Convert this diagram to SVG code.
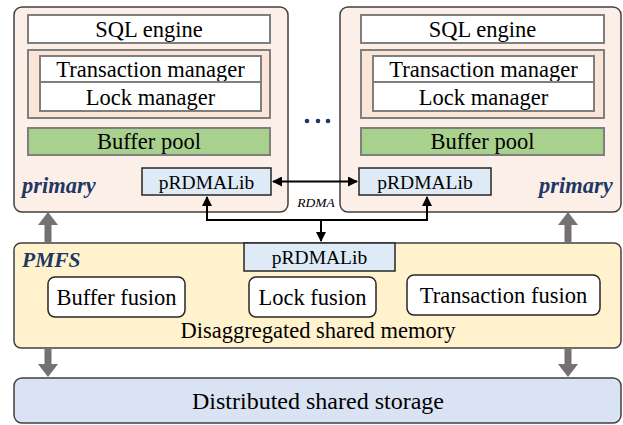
<svg xmlns="http://www.w3.org/2000/svg" width="623" height="425" viewBox="0 0 623 425" font-family="'Liberation Serif', serif">
<style>
text{font-family:'Liberation Serif','Times New Roman',serif;fill:#000;text-anchor:middle}
.t{font-size:22.5px}
.s{font-size:19.5px}
.lbl{font-size:22.5px;font-weight:bold;font-style:italic;fill:#1f3864;text-anchor:start}
.node{fill:#fcefe7;stroke:#404040;stroke-width:1.5}
.grp{fill:#fbe5d6;stroke:#7f7f7f;stroke-width:2}
.wb{fill:#fff;stroke:#7f7f7f;stroke-width:2}
.bp{fill:#a9d18e;stroke:#7f7f7f;stroke-width:2}
.lib{fill:#deebf7;stroke:#262626;stroke-width:1.5}
.fus{fill:#fff;stroke:#262626;stroke-width:1.5}
.conn{fill:none;stroke:#000;stroke-width:2}
.gray{fill:#767171}
</style>
<defs>
<marker id="ah" viewBox="0 0 10 10" refX="9" refY="5" markerWidth="5" markerHeight="5" markerUnits="strokeWidth" orient="auto-start-reverse">
<path d="M0,0 L10,5 L0,10 z" fill="#000"/>
</marker>
</defs>

<g id="primary-left">
<rect class="node" x="14" y="7" width="274" height="205" rx="8"/>
<rect class="wb" x="28" y="15" width="242" height="28"/>
<text class="t" x="149" y="36.5">SQL engine</text>
<rect class="grp" x="28" y="50" width="242" height="68"/>
<rect class="wb" x="40" y="56" width="221" height="26"/>
<text class="t" x="150.5" y="77">Transaction manager</text>
<rect class="wb" x="40" y="82" width="221" height="29"/>
<text class="t" x="150.5" y="104.5">Lock manager</text>
<rect class="bp" x="28" y="128" width="242" height="27"/>
<text class="t" x="149" y="148.5">Buffer pool</text>
<rect class="lib" x="142" y="168" width="129" height="27"/>
<text class="s" x="206.5" y="188.5">pRDMALib</text>
<text class="lbl" x="22" y="193">primary</text>
</g>

<g id="primary-right">
<rect class="node" x="340" y="7" width="281" height="205" rx="8"/>
<rect class="wb" x="361" y="15" width="243" height="28"/>
<text class="t" x="482.5" y="36.5">SQL engine</text>
<rect class="grp" x="361" y="50" width="243" height="68"/>
<rect class="wb" x="373" y="56" width="221" height="26"/>
<text class="t" x="483.5" y="77">Transaction manager</text>
<rect class="wb" x="373" y="82" width="221" height="29"/>
<text class="t" x="483.5" y="104.5">Lock manager</text>
<rect class="bp" x="361" y="128" width="243" height="27"/>
<text class="t" x="482.5" y="148.5">Buffer pool</text>
<rect class="lib" x="359" y="168" width="132" height="27"/>
<text class="s" x="425" y="188.5">pRDMALib</text>
<text class="lbl" x="539" y="193">primary</text>
</g>

<g id="ellipsis">
<circle cx="307" cy="121" r="2.3" fill="#1f3864"/>
<circle cx="318" cy="121" r="2.3" fill="#1f3864"/>
<circle cx="328" cy="121" r="2.3" fill="#1f3864"/>
</g>

<g id="pmfs">
<rect x="14" y="243" width="607" height="105" rx="7" fill="#fff2cc" stroke="#404040" stroke-width="1.5"/>
<text class="lbl" x="22" y="267" style="font-size:21.5px">PMFS</text>
<rect class="lib" x="244" y="243" width="151" height="28"/>
<text class="s" x="319.5" y="264">pRDMALib</text>
<rect class="fus" x="48" y="277" width="137" height="40" rx="7"/>
<text class="t" x="116.5" y="304.5">Buffer fusion</text>
<rect class="fus" x="249" y="277" width="127" height="40" rx="7"/>
<text class="t" x="312.5" y="304.5">Lock fusion</text>
<rect class="fus" x="407" y="275" width="193" height="40" rx="7"/>
<text class="t" x="503.5" y="302.5">Transaction fusion</text>
<text class="t" x="318" y="338">Disaggregated shared memory</text>
</g>

<g id="storage">
<rect x="14" y="378" width="607" height="45" rx="8" fill="#dae3f3" stroke="#404040" stroke-width="1.5"/>
<text x="318" y="409" style="font-size:24px">Distributed shared storage</text>
</g>

<g id="connectors">
<line class="conn" x1="273" y1="181.5" x2="357" y2="181.5" marker-start="url(#ah)" marker-end="url(#ah)"/>
<polyline class="conn" points="207,197 207,220 427,220 427,197" marker-start="url(#ah)" marker-end="url(#ah)"/>
<line class="conn" x1="321" y1="220" x2="321" y2="241" marker-end="url(#ah)"/>
<text x="316" y="207" style="font-size:13.5px;font-style:italic">RDMA</text>
<path class="gray" d="M44.5,243 L44.5,225 L38,225 L48,212 L58,225 L51.5,225 L51.5,243 z"/>
<path class="gray" d="M564.5,243 L564.5,225 L558,225 L568,212 L578,225 L571.5,225 L571.5,243 z"/>
<path class="gray" d="M44.5,348 L44.5,364 L38,364 L48,377 L58,364 L51.5,364 L51.5,348 z"/>
<path class="gray" d="M564.5,348 L564.5,364 L558,364 L568,377 L578,364 L571.5,364 L571.5,348 z"/>
</g>
</svg>
